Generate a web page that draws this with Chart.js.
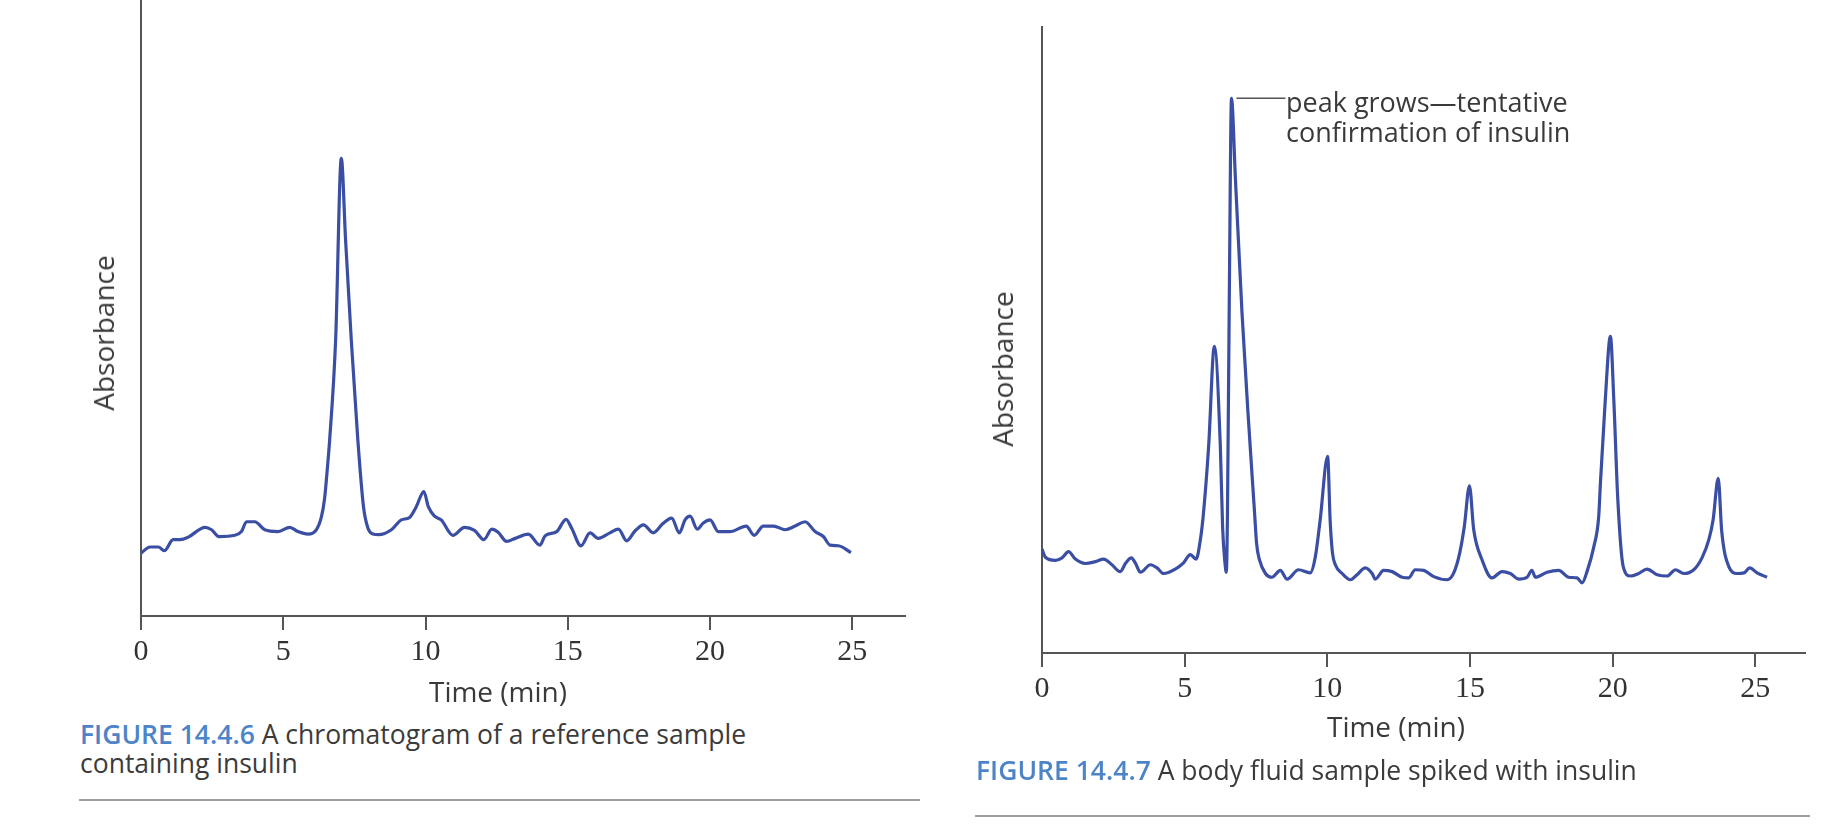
<!DOCTYPE html>
<html>
<head>
<meta charset="utf-8">
<script src="https://cdn.jsdelivr.net/npm/chart.js@4.4.1/dist/chart.umd.min.js"></script>
<style>
html,body{margin:0;padding:0;background:#fff;width:1835px;height:828px;overflow:hidden;}
body{position:relative;font-family:"Open Sans",sans-serif;}
canvas{position:absolute;}
.t{position:absolute;white-space:nowrap;color:#3a3a3a;}
.ylab{font-size:28px;line-height:34px;transform:translate(-50%,-50%) rotate(-90deg);}
.xlab{font-size:28px;line-height:34px;transform:translateX(-50%);}
.cap{font-size:26.5px;line-height:29px;color:#3b3b3b;}
.cap b{color:#4d84c8;font-weight:600;}
.note{font-size:27px;line-height:30px;color:#3a3a3a;}
.rule{position:absolute;height:2px;background:#a0a0a0;}
</style>
</head>
<body>
<canvas id="c1" width="920" height="700" style="left:0;top:0;width:920px;height:700px"></canvas>
<canvas id="c2" width="915" height="760" style="left:920px;top:0;width:915px;height:760px"></canvas>

<div class="t ylab" style="left:103px;top:333px">Absorbance</div>
<div class="t xlab" style="left:498px;top:674px">Time (min)</div>
<div class="t cap" style="left:80px;top:720px"><b>FIGURE 14.4.6</b> A chromatogram of a reference sample<br>containing insulin</div>
<div class="rule" style="left:79px;top:799px;width:841px"></div>

<div class="t ylab" style="left:1002px;top:369px">Absorbance</div>
<div class="t xlab" style="left:1396px;top:709px">Time (min)</div>
<div class="t note" style="left:1286px;top:87px">peak grows—tentative<br>confirmation of insulin</div>
<div class="t cap" style="left:976px;top:756px"><b>FIGURE 14.4.7</b> A body fluid sample spiked with insulin</div>
<div class="rule" style="left:975px;top:815px;width:835px"></div>

<script>
// ---- data ----
const xTicks = [0, 5, 10, 15, 20, 25];

// Figure 14.4.6 – reference sample (time in min, absorbance in relative units 0-100)
const refTime = [0,0.32,0.61,0.82,1.13,1.37,1.66,2.25,2.48,2.74,3.30,3.53,3.71,4.00,4.35,4.82,5.23,5.52,5.87,6.16,6.34,6.45,6.55,6.63,6.84,7.04,7.19,7.39,7.62,7.82,7.98,8.15,8.35,8.8,9.15,9.44,9.67,9.94,10.1,10.32,10.55,10.96,11.37,11.72,12.05,12.33,12.55,12.85,13.15,13.61,14.02,14.2,14.61,14.94,15.14,15.46,15.78,16.07,16.48,16.78,17.07,17.36,17.66,18.0,18.34,18.65,18.92,19.12,19.3,19.55,19.76,20.0,20.29,20.7,21.27,21.55,21.87,22.23,22.64,22.99,23.34,23.69,23.98,24.22,24.51,24.95];
const refAbs  = [10.2,11.2,11.2,10.6,12.4,12.4,12.8,14.4,14.0,12.9,13.1,13.7,15.3,15.3,14.0,13.7,14.4,13.7,13.3,14.0,16.1,19.0,24.0,28.6,44.8,74.3,61.0,44.8,28.6,17.7,14.2,13.3,13.2,14.0,15.6,16.0,17.7,20.2,17.7,16.2,15.6,13.1,14.4,13.9,12.4,14.1,13.6,12.1,12.6,13.3,11.5,13.0,13.7,15.7,14.2,11.4,13.5,12.6,13.5,14.1,12.2,13.8,14.8,13.5,15.0,15.9,13.5,15.6,16.2,14.1,15.1,15.6,13.7,13.7,14.6,13.1,14.6,14.6,14.0,14.6,15.3,13.7,12.9,11.5,11.4,10.3];

// Figure 14.4.7 – body fluid spiked with insulin
const spikedTime = [0,0.12,0.47,0.70,0.93,1.17,1.52,1.87,2.16,2.45,2.74,2.94,3.13,3.27,3.45,3.8,4.03,4.26,4.67,4.96,5.2,5.4,5.55,5.66,5.84,6.04,6.25,6.33,6.41,6.46,6.50,6.57,6.64,6.78,7.01,7.22,7.45,7.52,7.62,7.83,8.06,8.35,8.59,8.99,9.4,9.58,9.75,10.01,10.1,10.18,10.28,10.52,10.81,11.04,11.33,11.57,11.68,11.97,12.27,12.62,12.85,13.08,13.38,13.73,14.2,14.43,14.64,14.8,14.98,15.13,15.42,15.77,16.12,16.41,16.71,17.0,17.17,17.29,17.7,18.11,18.46,18.75,18.93,19.1,19.34,19.51,19.57,19.74,19.92,20.04,20.18,20.37,20.62,20.91,21.2,21.56,21.91,22.2,22.49,22.84,23.13,23.37,23.52,23.7,23.82,24.07,24.36,24.6,24.8,25.06,25.41];
const spikedAbs  = [16.6,15.3,14.8,15.2,16.2,15.0,14.3,14.6,15.0,14.1,13.0,14.4,15.2,14.4,12.9,14.1,13.6,12.7,13.4,14.4,15.7,15.0,18.1,22.4,33.0,49.0,33.0,20.0,14.5,12.9,22.4,60.0,88.6,75.6,54.3,38.3,22.4,17.5,14.9,12.7,12.1,13.2,11.8,13.3,12.8,15.4,21.3,31.4,21.0,16.0,14.1,12.7,11.7,12.5,13.6,12.7,11.8,13.2,13.0,12.1,12.0,13.3,13.2,12.2,11.7,12.8,16.0,20.2,26.7,19.7,14.9,12.0,13.0,12.7,11.8,12.1,13.2,12.1,12.9,13.2,12.1,12.0,11.2,13.0,17.0,21.8,27.1,40.4,50.6,40.4,24.5,13.8,12.3,12.7,13.4,12.5,12.3,13.3,12.7,13.3,15.2,18.1,21.3,27.9,19.5,13.8,12.7,12.8,13.6,12.8,12.1];

// ---- drawing ----
const LINE = '#3a4ea3';
const AXIS = '#555555';

const leaderLine = {
  id: 'leaderLine',
  afterDatasetsDraw(chart) {
    const i = spikedAbs.indexOf(Math.max(...spikedAbs));
    const px = chart.scales.x.getPixelForValue(spikedTime[i]);
    const py = chart.scales.y.getPixelForValue(spikedAbs[i]);
    const ctx = chart.ctx;
    ctx.save();
    ctx.strokeStyle = '#555';
    ctx.lineWidth = 1.5;
    ctx.beginPath();
    ctx.moveTo(px + 5, py);
    ctx.lineTo(px + 54, py);
    ctx.stroke();
    ctx.restore();
  }
};

function makeChart(id, times, values, xMax, pad, yAxisWidth, xAxisHeight, plugins) {
  return new Chart(document.getElementById(id), {
    type: 'line',
    data: {
      datasets: [{
        data: times.map((t, i) => ({x: t, y: values[i]})),
        borderColor: LINE,
        borderWidth: 3.2,
        pointRadius: 0,
        cubicInterpolationMode: 'monotone',
        fill: false
      }]
    },
    options: {
      responsive: false,
      animation: false,
      devicePixelRatio: 1,
      events: [],
      layout: {padding: pad},
      plugins: {legend: {display: false}, tooltip: {enabled: false}},
      scales: {
        x: {
          type: 'linear', min: 0, max: xMax,
          afterBuildTicks: s => { s.ticks = xTicks.map(v => ({value: v})); },
          afterFit: s => { s.height = xAxisHeight; },
          ticks: {font: {family: '"Liberation Serif", "DejaVu Serif", serif', size: 30}, color: '#333', padding: 4, maxRotation: 0, autoSkip: false},
          grid: {drawOnChartArea: false, drawTicks: true, tickLength: 14, color: AXIS, lineWidth: 2},
          border: {display: true, color: AXIS, width: 2}
        },
        y: {
          min: 0, max: 100,
          afterFit: s => { s.width = yAxisWidth; },
          ticks: {display: false},
          grid: {display: false, drawTicks: false},
          border: {display: true, color: AXIS, width: 2}
        }
      }
    },
    plugins: plugins || []
  });
}

makeChart('c1', refTime, refAbs, 26.85, {left: 0, top: 0, right: 15, bottom: 0}, 141, 84);
makeChart('c2', spikedTime, spikedAbs, 26.74, {left: 0, top: 27, right: 30, bottom: 0}, 122, 107, [leaderLine]);
</script>
</body>
</html>
